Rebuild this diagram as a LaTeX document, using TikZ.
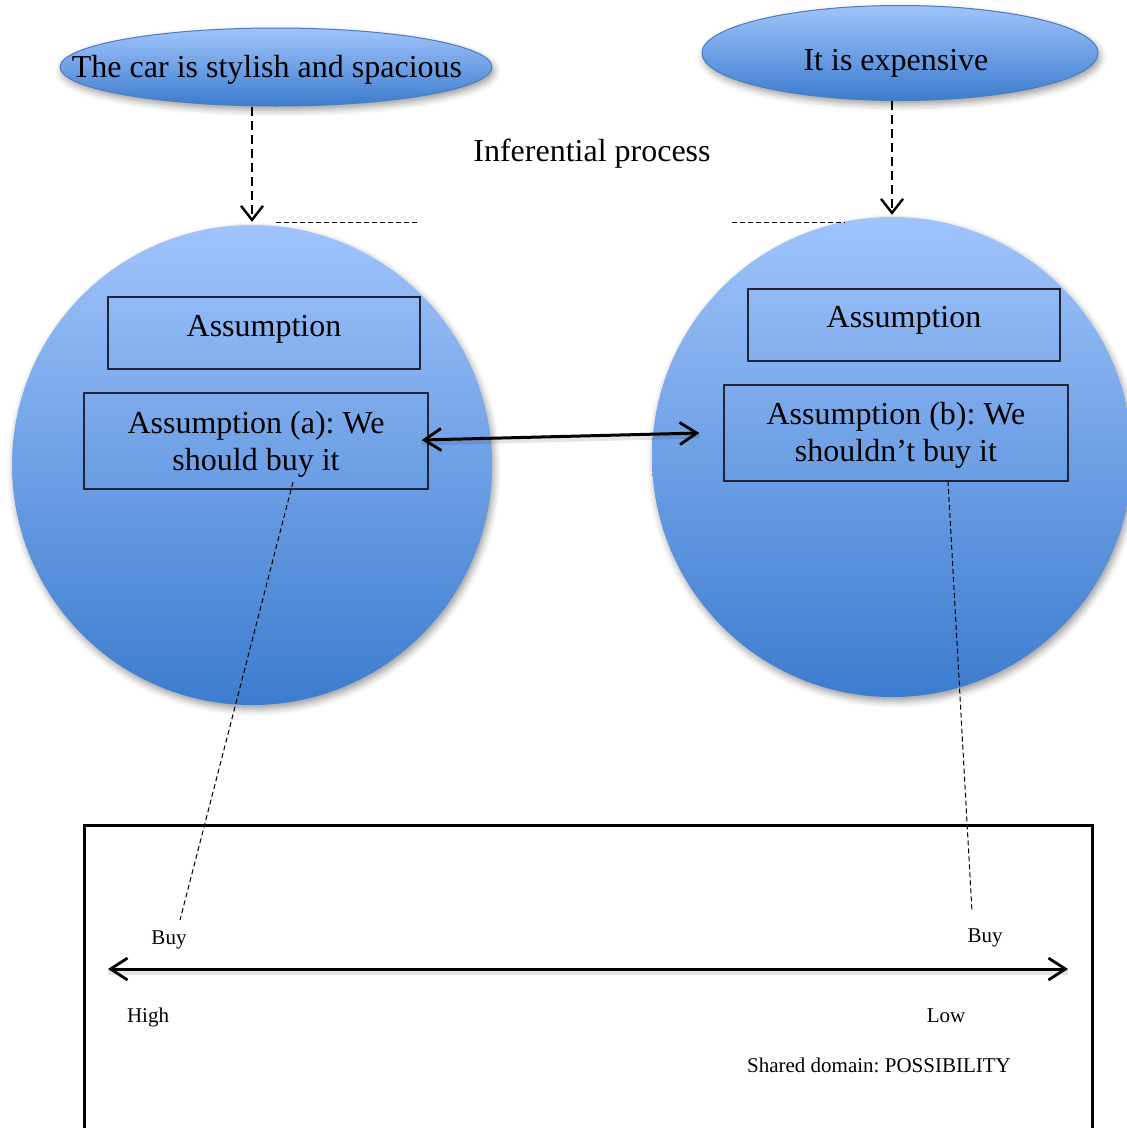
\documentclass[tikz,border=0pt]{standalone}
\usepackage{fontspec}
\setmainfont{Liberation Serif}
\frenchspacing
\usetikzlibrary{shapes.geometric,arrows.meta,shadows.blur}
\definecolor{blueTop}{RGB}{160,196,252}
\definecolor{blueBot}{RGB}{60,124,206}
\definecolor{blueEdge}{RGB}{74,126,187}
\definecolor{boxEdge}{RGB}{35,35,55}
\begin{document}
\begin{tikzpicture}[x=1pt,y=-1pt,
  bigfont/.style={font=\fontsize{32}{37}\selectfont},
  smallfont/.style={font=\fontsize{21}{24}\selectfont},
  softshadow/.style={blur shadow={shadow xshift=2pt,shadow yshift=-4pt,shadow blur radius=7pt,shadow opacity=40}},
  bubble/.style={ellipse,draw=blueEdge,line width=1pt,top color=blueTop,bottom color=blueBot,inner sep=0pt,softshadow},
  disc/.style={circle,top color=blueTop,bottom color=blueBot,inner sep=0pt,minimum size=480pt,softshadow},
  assumbox/.style={draw=boxEdge,line width=1.3pt,inner sep=0pt,align=center,bigfont},
  txt/.style={inner sep=0pt,anchor=base},
  flowarrow/.style={line width=2.8pt,dash pattern=on 9pt off 5pt,-{Straight Barb[length=14pt,width=22pt,line width=2.4pt]}},
  twoway/.style={line width=3pt,{Straight Barb[length=17pt,width=22pt,line width=2.8pt]}-{Straight Barb[length=17pt,width=22pt,line width=2.8pt]}},
  guide/.style={line width=1pt,dash pattern=on 5pt off 3pt},
  armshadow/.style={line width=5pt,black,opacity=0.10}
]
\useasboundingbox (0,0) rectangle (1127,1128);
\clip (0,0) rectangle (1127,1128);

% premises
\node[bubble,minimum width=432pt,minimum height=78pt] (e1) at (276,67) {};
\node[txt,bigfont] (t1) at (267,77) {The car is stylish and spacious};
\node[bubble,minimum width=396pt,minimum height=95pt] (e2) at (900,53) {};
\node[txt,bigfont] (t2) at (896,70) {It is expensive};

\node[txt,bigfont] (inf) at (592,161) {Inferential process};

% context discs
\node[disc] (c1) at (252,465) {};
\node[disc] (c2) at (892,457) {};

% assumption boxes
\node[assumbox,minimum width=312pt,minimum height=72pt] (a1) at (264,333) {\raisebox{4pt}[\height][\depth]{Assumption}};
\node[assumbox,minimum width=344pt,minimum height=96pt] (ra) at (256,441) {\raisebox{-4pt}[\height][\depth]{\begin{tabular}{@{}c@{}}Assumption (a): We\\[0pt] should buy it\end{tabular}}};
\node[assumbox,minimum width=312pt,minimum height=72pt] (a2) at (904,325) {\raisebox{5pt}[\height][\depth]{Assumption}};
\node[assumbox,minimum width=344pt,minimum height=96pt] (rb) at (896,433) {\raisebox{-3pt}[\height][\depth]{\begin{tabular}{@{}c@{}}Assumption (b): We\\[0pt] shouldn’t buy it\end{tabular}}};

% premise-to-context arrows
\draw[flowarrow] (e1.south -| c1.north) -- ([yshift=3pt]c1.north);
\draw[flowarrow] (e2.south -| c2.north) -- ([yshift=2pt]c2.north);

% horizontal guides
\coordinate (g1a) at (276,222);
\coordinate (g1b) at (420,222);
\coordinate (g2a) at (732,222);
\coordinate (g2b) at (845,222);
\draw[guide] (g1a) -- (g1b);
\draw[guide] (g2a) -- (g2b);

% contradiction arrow
\coordinate (ma) at ([xshift=-7pt,yshift=1pt]ra.east);
\coordinate (mb) at ([xshift=-24pt]rb.west);
\draw[armshadow] ([yshift=-3pt]ma) -- ([yshift=-3pt]mb);
\draw[twoway] (ma) -- (mb);

% scale box
\coordinate (bx1) at (84,825);
\coordinate (bx2) at (1092,1145);
\draw[line width=3pt] (bx1) rectangle (bx2);

\node[txt,smallfont] (buyL) at (169,944) {Buy};
\node[txt,smallfont] (buyR) at (985,942) {Buy};
\node[txt,smallfont] (high) at (148,1022) {High};
\node[txt,smallfont] (low) at (946,1022) {Low};
\node[txt,smallfont] (dom) at (879,1072) {Shared domain: POSSIBILITY};

\coordinate (sL) at (108,969);
\coordinate (sR) at (1068,969);
\draw[armshadow] ([yshift=-3pt]sL) -- ([yshift=-3pt]sR);
\draw[twoway] (sL) -- (sR);

% links from assumptions to scale
\coordinate (la) at (293,482);
\coordinate (lb) at (180,920);
\coordinate (ra2) at (948,481);
\coordinate (rb2) at (972,912);
\draw[guide] (la) -- (lb);
\draw[guide] (ra2) -- (rb2);
\end{tikzpicture}
\end{document}
